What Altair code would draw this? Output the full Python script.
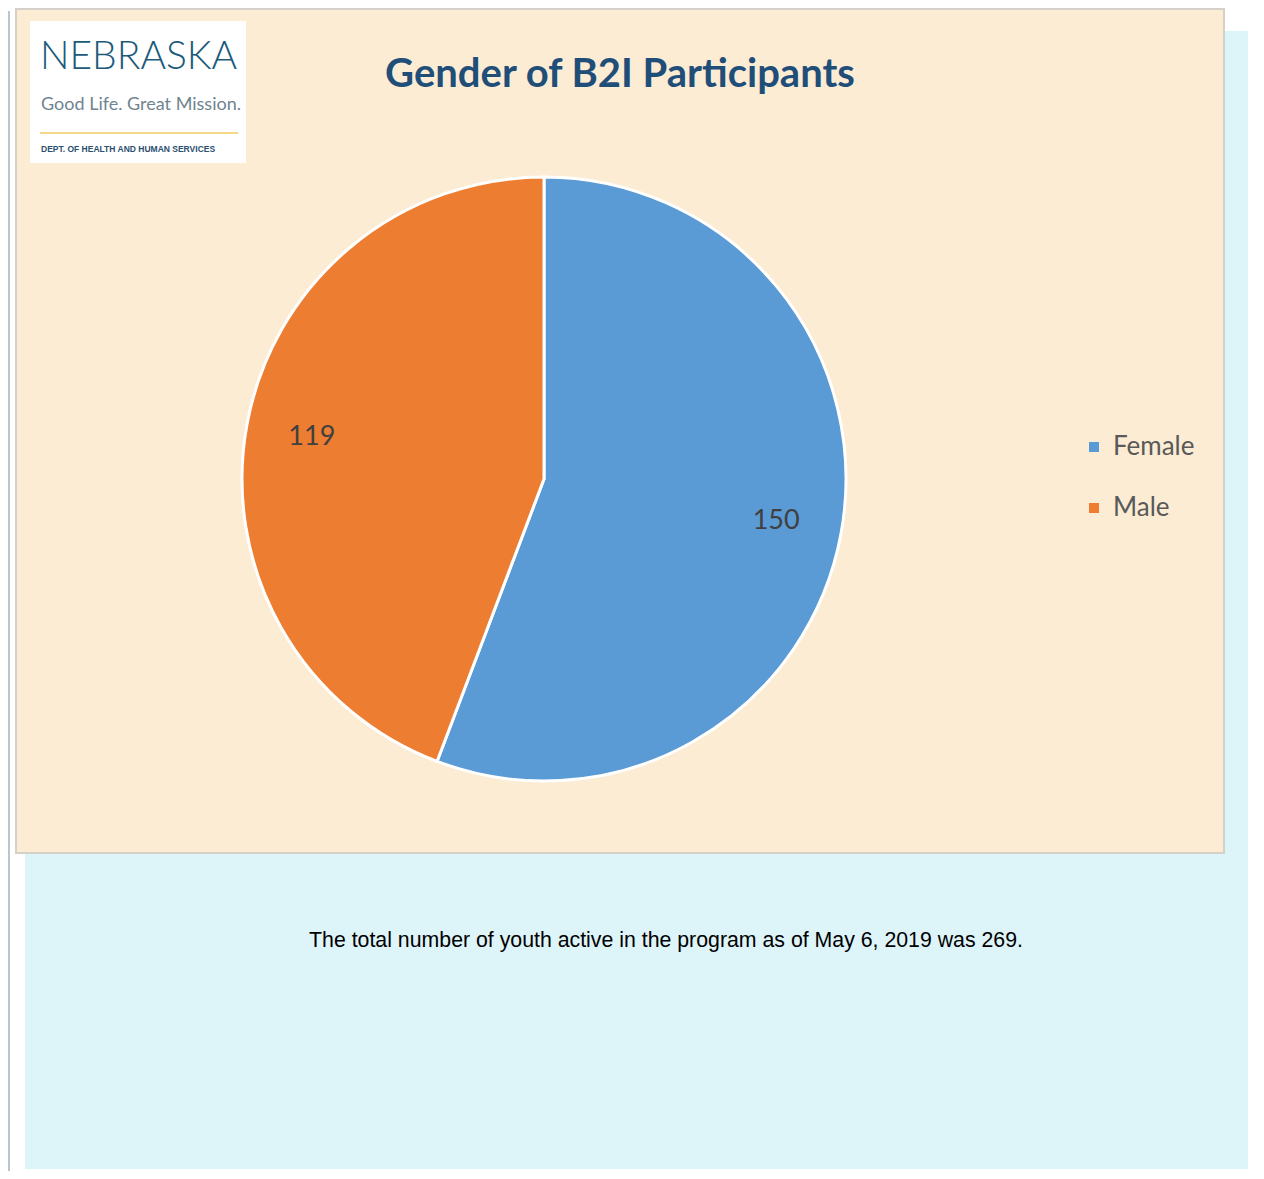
import altair as alt
import pandas as pd

# ---- data ----
categories = ["Female", "Male"]
counts = [150, 119]
order = [1, 2]
colors = ["#5b9bd5", "#ed7d31"]

title_text = "Gender of B2I Participants"
note_text = "The total number of youth active in the program as of May 6, 2019 was 269."

df = pd.DataFrame({"gender": categories, "count": counts, "order": order})
one = pd.DataFrame({"k": [0]})

W, H = 1248, 1163
CX, CY = 536, 468

# ---- decorations ----
cyan_bg = alt.Chart(one).mark_rect(color="#ddf4f9").encode(
    x=alt.value(17), x2=alt.value(1240), y=alt.value(20), y2=alt.value(1158))
left_rule = alt.Chart(one).mark_rule(color="#b9c6cc", strokeWidth=2).encode(
    x=alt.value(1), y=alt.value(0), y2=alt.value(H))
panel = alt.Chart(one).mark_rect(color="#fcecd4", stroke="#d5d0ca", strokeWidth=2).encode(
    x=alt.value(8), x2=alt.value(1216), y=alt.value(-2), y2=alt.value(842))
logo_box = alt.Chart(one).mark_rect(color="#ffffff").encode(
    x=alt.value(22), x2=alt.value(238), y=alt.value(10), y2=alt.value(152))
logo_line = alt.Chart(one).mark_rule(color="#f3d888", strokeWidth=2).encode(
    x=alt.value(32), x2=alt.value(230), y=alt.value(122))
logo_name = alt.Chart(one).mark_text(
    font="Lato", fontSize=39, color="#1b5a79", align="left", baseline="alphabetic",
    fontWeight=300).encode(x=alt.value(32), y=alt.value(58), text=alt.value("NEBRASKA"))
logo_tag = alt.Chart(one).mark_text(
    font="Lato", fontSize=18, color="#6f8490", align="left", baseline="alphabetic").encode(
    x=alt.value(33), y=alt.value(99), text=alt.value("Good Life. Great Mission."))
logo_dept = alt.Chart(one).mark_text(
    font="Liberation Sans", fontSize=8.5, fontWeight="bold", color="#2b4f70",
    align="left", baseline="alphabetic").encode(
    x=alt.value(33), y=alt.value(141), text=alt.value("DEPT. OF HEALTH AND HUMAN SERVICES"))

title = alt.Chart(one).mark_text(
    font="Lato", fontSize=40, fontWeight="bold", color="#1f4e79",
    align="center", baseline="alphabetic").encode(
    x=alt.value(612), y=alt.value(76), text=alt.value(title_text))

note = alt.Chart(one).mark_text(
    font="Liberation Sans", fontSize=21.3, color="#000000",
    align="center", baseline="middle").encode(
    x=alt.value(658), y=alt.value(930), text=alt.value(note_text))

# ---- pie ----
pie = alt.Chart(df).mark_arc(radius=302, stroke="#ffffff", strokeWidth=3).encode(
    theta=alt.Theta("count:Q", stack=True),
    order=alt.Order("order:Q"),
    color=alt.Color(
        "gender:N",
        scale=alt.Scale(domain=categories, range=colors),
        legend=alt.Legend(
            title=None, orient="none", legendX=1073, legendY=423,
            symbolType="square", symbolSize=100, symbolStrokeWidth=0,
            labelFont="Lato", labelFontSize=26, labelColor="#595959",
            labelOffset=6, rowPadding=35, labelLimit=300),
    ),
    x=alt.value(CX), y=alt.value(CY),
)

labels = alt.Chart(df).mark_text(
    radius=236, font="Lato", fontSize=27, color="#404040").encode(
    theta=alt.Theta("count:Q", stack=True),
    order=alt.Order("order:Q"),
    text=alt.Text("count:Q"),
    x=alt.value(CX), y=alt.value(CY),
)

chart = alt.layer(
    cyan_bg, left_rule, panel, logo_box, logo_line, logo_name, logo_tag, logo_dept,
    title, pie, labels, note,
).properties(
    width=W, height=H, padding=0, background="#ffffff",
    autosize=alt.AutoSizeParams(type="fit", contains="padding"),
).configure_view(strokeWidth=0, stroke=None)

chart.save("out.html", embed_options={"renderer": "svg", "actions": False})
